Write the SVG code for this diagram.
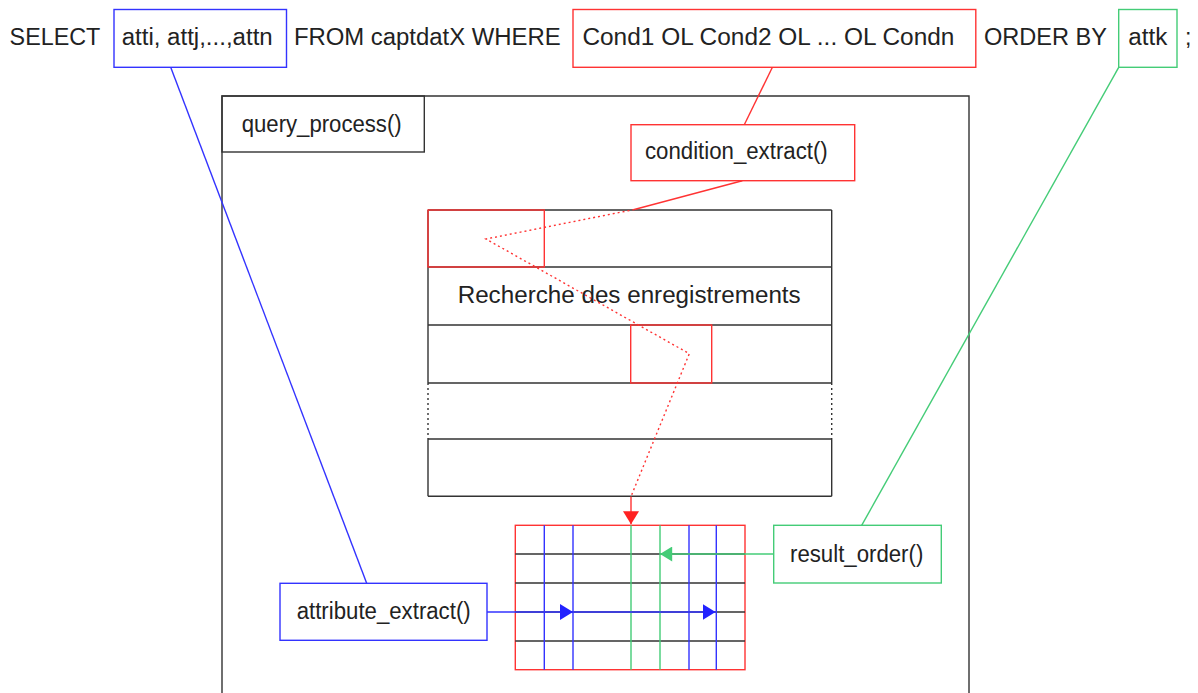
<svg xmlns="http://www.w3.org/2000/svg" width="1198" height="693" viewBox="0 0 1198 693">
<defs>
<style>
text{font-family:"Liberation Sans",Arial,sans-serif;font-size:23px;fill:#222}
.k{fill:none;stroke:#333;stroke-width:1.4}
.r{fill:none;stroke:#f33;stroke-width:1.4}
.b{fill:none;stroke:#33f;stroke-width:1.4}
.g{fill:none;stroke:#4c7;stroke-width:1.4}
.dot{stroke-dasharray:2,3}
</style>
<marker id="ar" viewBox="0 0 13 16" refX="13" refY="8" markerWidth="13" markerHeight="16" markerUnits="userSpaceOnUse" orient="auto"><path d="M0,0 L13,8 L0,16 z" fill="#f22"/></marker>
<marker id="ab" viewBox="0 0 13 16" refX="13" refY="8" markerWidth="13" markerHeight="16" markerUnits="userSpaceOnUse" orient="auto"><path d="M0,0 L13,8 L0,16 z" fill="#22f"/></marker>
<marker id="ag" viewBox="0 0 13 16" refX="13" refY="8" markerWidth="13" markerHeight="15" markerUnits="userSpaceOnUse" orient="auto"><path d="M0,0 L13,8 L0,16 z" fill="#4c7"/></marker>
</defs>
<rect width="1198" height="693" fill="#fff"/>

<g id="query">
<text x="9.6" y="45" textLength="90.7" lengthAdjust="spacingAndGlyphs">SELECT</text>
<text x="293.9" y="45" textLength="266.8" lengthAdjust="spacingAndGlyphs">FROM captdatX WHERE</text>
<text x="984" y="45" textLength="123" lengthAdjust="spacingAndGlyphs">ORDER BY</text>
<text x="1185" y="45">;</text>
</g>

<g id="attrs">
<rect class="b" x="114" y="9.5" width="172.5" height="57.8"/>
<text x="121.7" y="45" textLength="151" lengthAdjust="spacingAndGlyphs">atti, attj,...,attn</text>
</g>

<g id="conds">
<rect class="r" x="573" y="9.5" width="402.8" height="57.8"/>
<text x="582.4" y="45" textLength="372" lengthAdjust="spacingAndGlyphs">Cond1 OL Cond2 OL ... OL Condn</text>
</g>

<g id="attk">
<rect class="g" x="1118.7" y="9.5" width="58.3" height="57.8"/>
<text x="1128.3" y="45" textLength="39" lengthAdjust="spacingAndGlyphs">attk</text>
</g>

<g id="query_process">
<path class="k" d="M222,700 V96 H969 V700"/>
<rect class="k" x="222" y="96" width="202.3" height="56"/>
<text x="241.7" y="131.5" textLength="160" lengthAdjust="spacingAndGlyphs">query_process()</text>
</g>

<g id="condition_extract">
<rect class="r" x="631" y="124.7" width="223.7" height="56"/>
<text x="645" y="159.3" textLength="182.7" lengthAdjust="spacingAndGlyphs">condition_extract()</text>
</g>

<g id="records">
<path class="k" d="M428,210 H831.7 M428,267 H831.7 M428,325 H831.7 M428,383 H831.7 M428,439 H831.7 M428,496.3 H831.7 M428,210 V383 M831.7,210 V383 M428,439 V496.3 M831.7,439 V496.3"/>
<path class="k dot" d="M428,383 V439 M831.7,383 V439"/>
<rect class="r" x="428" y="210" width="116.3" height="57"/>
<rect class="r" x="630.7" y="325" width="81" height="58"/>
<text x="457.7" y="302.7" textLength="343" lengthAdjust="spacingAndGlyphs">Recherche des enregistrements</text>
</g>

<g id="result">
<rect class="r" x="515.3" y="525.3" width="229.7" height="144.4"/>
<path class="k" d="M515.3,554 H745 M515.3,583 H745 M515.3,612 H745 M515.3,641 H745"/>
<path class="b" d="M544.3,525.3 V669.7 M573,525.3 V669.7 M689,525.3 V669.7 M716.3,525.3 V669.7"/>
<path class="g" d="M631,525.3 V669.7 M660,525.3 V669.7"/>
</g>

<g id="result_order">
<rect class="g" x="773.7" y="525.3" width="167.6" height="57.7"/>
<text x="790" y="561.7" textLength="133.3" lengthAdjust="spacingAndGlyphs">result_order()</text>
</g>

<g id="attribute_extract">
<rect class="b" x="280" y="583.3" width="207" height="57"/>
<text x="296.7" y="619.3" textLength="174" lengthAdjust="spacingAndGlyphs">attribute_extract()</text>
</g>

<g id="connectors">
<path class="b" d="M170.7,67.3 L366.7,583.3"/>
<path class="r" d="M772.4,67.3 L744.3,124.7"/>
<path class="g" d="M1118.7,67.3 L861.7,525.3"/>
<path class="r" d="M742.3,180.7 L634.3,209.5"/>
<path class="r dot" d="M634.3,209.5 L486,239 L689.3,353.7 L631,496.5"/>
<path class="r" d="M631,496.5 V524.3" marker-end="url(#ar)"/>
<path class="g" d="M773.7,554 H660" marker-end="url(#ag)"/>
<path class="b" d="M487,612 H573" marker-end="url(#ab)"/>
<path class="b" d="M573,612 H715.5" marker-end="url(#ab)"/>
</g>
</svg>
